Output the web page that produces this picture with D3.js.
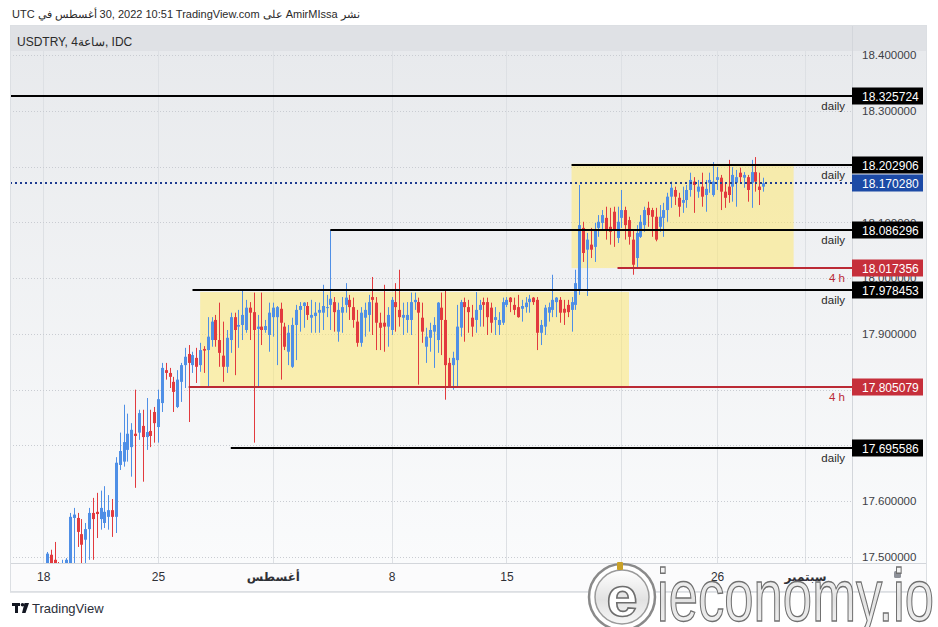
<!DOCTYPE html>
<html>
<head>
<meta charset="utf-8">
<script src="https://cdn.jsdelivr.net/npm/d3@7"></script>
<style>
body { margin: 0; background: #fff; }
svg { display: block; font-family: "Liberation Sans", Arial, sans-serif; }
</style>
</head>
<body>
<svg id="chart" width="938" height="627"></svg>
<script>
// USDTRY 4h candles
var opens = [17.489,17.504,17.495,17.477,17.463,17.477,17.486,17.570,17.570,17.541,
17.531,17.550,17.579,17.581,17.568,17.561,17.572,17.584,17.572,17.665,
17.671,17.692,17.697,17.721,17.723,17.735,17.715,17.726,17.760,17.733,
17.776,17.835,17.830,17.814,17.769,17.814,17.844,17.864,17.844,17.857,
17.844,17.873,17.871,17.889,17.925,17.889,17.861,17.841,17.889,17.930,
17.913,17.916,17.907,17.947,17.939,17.909,17.913,17.907,17.898,17.930,
17.930,17.945,17.913,17.868,17.841,17.916,17.943,17.950,17.950,17.929,
17.932,17.938,17.938,17.947,17.952,17.957,17.904,17.938,17.952,17.961,
17.948,17.922,17.884,17.929,17.934,17.966,17.956,17.920,17.920,17.913,
17.907,17.957,17.943,17.929,17.925,17.925,17.957,17.957,17.929,17.877,
17.893,17.904,17.889,17.947,17.925,17.848,17.844,17.853,17.911,17.957,
17.948,17.929,17.925,17.943,17.957,17.957,17.947,17.925,17.916,17.920,
17.952,17.965,17.952,17.948,17.945,17.948,17.957,17.965,17.961,17.902,
17.913,17.938,17.943,17.957,17.961,17.945,17.952,17.943,17.952,17.979,
18.090,18.051,18.060,18.056,18.090,18.099,18.108,18.092,18.119,18.072,
18.108,18.122,18.104,18.069,18.036,18.074,18.095,18.126,18.122,18.110,
18.092,18.108,18.122,18.146,18.158,18.144,18.135,18.140,18.158,18.173,
18.155,18.164,18.149,18.171,18.149,18.176,18.180,18.155,18.164,18.164,
18.171,18.189,18.180,18.181,18.171,18.190,18.164,18.164];
var highs = [17.509,17.513,17.527,17.491,17.495,17.498,17.579,17.588,17.579,17.568,
17.561,17.588,17.606,17.615,17.619,17.627,17.611,17.604,17.679,17.723,
17.773,17.757,17.740,17.800,17.764,17.764,17.785,17.764,17.769,17.800,
17.848,17.848,17.839,17.823,17.835,17.848,17.875,17.880,17.868,17.875,
17.884,17.878,17.930,17.930,17.934,17.956,17.922,17.907,17.938,17.938,
17.943,17.977,17.961,17.957,17.974,17.934,17.974,17.925,17.956,17.956,
17.950,17.956,17.920,17.916,17.929,17.952,17.957,17.957,17.957,17.961,
17.957,17.956,17.988,17.970,18.086,17.966,17.956,17.966,17.991,17.970,
17.965,17.943,17.948,17.956,17.970,18.002,17.966,17.938,17.988,17.948,
17.966,17.991,18.015,17.956,17.957,17.974,17.974,17.965,17.956,17.911,
17.920,17.930,17.957,17.974,17.979,17.857,17.868,17.952,17.961,17.965,
17.961,17.952,17.975,17.961,17.965,17.965,17.956,17.948,17.939,17.965,
17.966,17.966,17.965,17.970,17.961,17.966,17.970,17.966,17.966,17.925,
17.952,17.956,18.006,17.966,17.966,17.961,17.961,17.966,18.015,18.167,
18.101,18.081,18.090,18.099,18.113,18.122,18.128,18.126,18.128,18.128,
18.158,18.128,18.110,18.086,18.095,18.113,18.128,18.137,18.126,18.126,
18.131,18.135,18.153,18.173,18.164,18.153,18.164,18.167,18.189,18.181,
18.176,18.189,18.176,18.189,18.208,18.199,18.185,18.171,18.212,18.199,
18.194,18.198,18.190,18.185,18.212,18.217,18.189,18.180];
var lows = [17.484,17.486,17.468,17.450,17.455,17.468,17.480,17.489,17.518,17.489,
17.489,17.495,17.495,17.534,17.549,17.552,17.549,17.536,17.543,17.656,
17.662,17.671,17.644,17.624,17.710,17.635,17.692,17.697,17.705,17.705,
17.760,17.818,17.803,17.760,17.767,17.778,17.803,17.742,17.830,17.812,
17.832,17.830,17.803,17.877,17.877,17.841,17.814,17.830,17.866,17.826,
17.875,17.889,17.902,17.889,17.705,17.805,17.880,17.902,17.868,17.895,
17.844,17.818,17.871,17.844,17.839,17.853,17.904,17.911,17.925,17.902,
17.902,17.902,17.907,17.930,17.907,17.904,17.886,17.902,17.938,17.925,
17.911,17.877,17.877,17.895,17.904,17.898,17.871,17.871,17.868,17.877,
17.898,17.904,17.913,17.898,17.902,17.898,17.943,17.809,17.884,17.848,
17.868,17.839,17.866,17.862,17.782,17.803,17.800,17.805,17.895,17.886,
17.902,17.895,17.902,17.913,17.913,17.898,17.902,17.898,17.898,17.916,
17.948,17.939,17.934,17.929,17.922,17.938,17.938,17.952,17.871,17.880,
17.898,17.922,17.930,17.930,17.920,17.916,17.930,17.904,17.943,17.970,
18.029,17.968,18.036,18.029,18.074,18.086,18.069,18.060,18.056,18.063,
18.090,18.069,18.060,18.006,18.020,18.072,18.083,18.092,18.074,18.066,
18.083,18.074,18.101,18.126,18.131,18.110,18.117,18.126,18.146,18.117,
18.144,18.128,18.119,18.153,18.146,18.158,18.122,18.126,18.135,18.137,
18.128,18.171,18.162,18.137,18.126,18.155,18.131,18.155];
var closes = [17.506,17.489,17.477,17.459,17.480,17.495,17.572,17.576,17.545,17.522,
17.550,17.579,17.568,17.577,17.588,17.581,17.584,17.572,17.669,17.690,
17.706,17.721,17.728,17.717,17.758,17.715,17.724,17.717,17.740,17.783,
17.839,17.830,17.823,17.796,17.818,17.844,17.859,17.848,17.862,17.841,
17.871,17.870,17.895,17.922,17.889,17.866,17.841,17.893,17.930,17.907,
17.916,17.934,17.947,17.938,17.907,17.913,17.907,17.914,17.938,17.947,
17.948,17.920,17.877,17.902,17.916,17.943,17.950,17.956,17.934,17.934,
17.938,17.943,17.950,17.948,17.963,17.939,17.943,17.948,17.965,17.948,
17.925,17.884,17.938,17.943,17.957,17.961,17.920,17.911,17.913,17.934,
17.961,17.948,17.930,17.934,17.934,17.957,17.961,17.938,17.904,17.895,
17.907,17.916,17.956,17.925,17.844,17.805,17.857,17.913,17.957,17.948,
17.939,17.913,17.943,17.952,17.952,17.930,17.920,17.930,17.925,17.957,
17.961,17.957,17.943,17.930,17.950,17.956,17.963,17.957,17.902,17.916,
17.947,17.948,17.961,17.965,17.938,17.938,17.939,17.957,17.991,18.095,
18.045,18.069,18.051,18.086,18.101,18.113,18.086,18.083,18.086,18.101,
18.122,18.095,18.074,18.024,18.081,18.101,18.122,18.113,18.110,18.069,
18.110,18.122,18.146,18.162,18.146,18.128,18.140,18.158,18.176,18.167,
18.164,18.146,18.160,18.176,18.173,18.181,18.155,18.144,18.149,18.185,
18.181,18.181,18.185,18.158,18.190,18.173,18.158,18.170];

// time axis: bar index of each label (the 22 Aug slot is hidden by the watermark)
var tickBars = [-1, 29, 59, 90, 120, 175, 198];
var tickLabels = ["18", "25", "أغسطس", "8", "15", "26", "سبتمبر"];
var gridBars = [-1, 29, 59, 90, 120, 150, 175, 198];
var monthTicks = ["أغسطس", "سبتمبر"];

// price axis
var priceTicks = [17.5, 17.6, 17.7, 17.8, 17.9, 18.0, 18.1, 18.2, 18.3, 18.4];

// drawn horizontal levels
var levelPrices = [18.325724, 18.202906, 18.086296, 18.017356, 17.978453, 17.805079, 17.695586];
var levelStart  = [-15, 137, 74, 149, 38, 37, 48];
var levelNames  = ["daily", "daily", "daily", "4 h", "daily", "4 h", "daily"];
var lastPrice = 18.170280;

// yellow ranges
var boxFrom = [40, 137], boxTo = [152, 195];
var boxLow = [17.805, 18.018], boxHigh = [17.975, 18.205];

var svg = d3.select("#chart");
var L = 10, R = 852, T = 25, B = 563, AX = 927;
var up = "#4f8fe6", down = "#e23a3e", redLine = "#bb2a35";

var N = closes.length;
var x = d3.scaleLinear().domain([0, N - 1]).range([47, 763]);
var y = d3.scaleLinear().domain([17.5, 18.4]).range([557, 55]);

var defs = svg.append("defs");
var bg = defs.append("linearGradient").attr("id", "bg").attr("x1", 0).attr("y1", 0).attr("x2", 0).attr("y2", 1);
bg.append("stop").attr("offset", "0%").attr("stop-color", "#e7e9ec");
bg.append("stop").attr("offset", "100%").attr("stop-color", "#fafbfc");
defs.append("clipPath").attr("id", "plot").append("rect")
  .attr("x", L).attr("y", T).attr("width", R - L).attr("height", B - T);
var silver = defs.append("linearGradient").attr("id", "silver").attr("x1", 0).attr("y1", 0).attr("x2", 0).attr("y2", 1);
silver.append("stop").attr("offset", "0%").attr("stop-color", "#ffffff");
silver.append("stop").attr("offset", "55%").attr("stop-color", "#e2e2e2");
silver.append("stop").attr("offset", "100%").attr("stop-color", "#f7f7f7");

// top line
var headChunks = ["UTC", "في", "أغسطس", "30, 2022 10:51 TradingView.com", "على", "AmirMIssa", "نشر"];
var hx = 12;
headChunks.forEach(function(t) {
  var el = svg.append("text").attr("x", hx).attr("y", 18)
    .attr("font-size", 11).attr("fill", "#2a2a2a").text(t);
  hx += el.node().getComputedTextLength() + 3;
});

// chart background
svg.append("rect").attr("x", L).attr("y", T).attr("width", AX - L).attr("height", B - T).attr("fill", "url(#bg)");
svg.append("rect").attr("x", L).attr("y", T).attr("width", AX - L).attr("height", 26).attr("fill", "#dfe1e5");
svg.append("rect").attr("x", L).attr("y", B).attr("width", AX - L).attr("height", 29).attr("fill", "#fbfbfc");

// grid
var grid = svg.append("g").attr("clip-path", "url(#plot)");
grid.selectAll(".vg").data(gridBars).enter().append("line")
  .attr("x1", function(d) { return Math.round(x(d)) + 0.5; })
  .attr("x2", function(d) { return Math.round(x(d)) + 0.5; })
  .attr("y1", T + 26).attr("y2", B).attr("stroke", "#dde0e4").attr("stroke-width", 1);
grid.selectAll(".hg").data(priceTicks).enter().append("line")
  .attr("x1", L).attr("x2", R)
  .attr("y1", function(d) { return Math.round(y(d)) + 0.5; })
  .attr("y2", function(d) { return Math.round(y(d)) + 0.5; })
  .attr("stroke", "#c9ccd2").attr("stroke-width", 1).attr("stroke-dasharray", "1,2");

// yellow boxes
grid.selectAll(".box").data(boxFrom).enter().append("rect")
  .attr("x", function(d) { return x(d); })
  .attr("width", function(d, i) { return x(boxTo[i]) - x(d); })
  .attr("y", function(d, i) { return y(boxHigh[i]); })
  .attr("height", function(d, i) { return y(boxLow[i]) - y(boxHigh[i]); })
  .attr("fill", "rgba(255,231,104,0.5)");

// candles
var bars = d3.range(N);
var cg = svg.append("g").attr("clip-path", "url(#plot)");
var candle = cg.selectAll(".c").data(bars).enter().append("g");
candle.append("line")
  .attr("x1", function(i) { return Math.round(x(i)) + 0.5; })
  .attr("x2", function(i) { return Math.round(x(i)) + 0.5; })
  .attr("y1", function(i) { return y(highs[i]); })
  .attr("y2", function(i) { return y(lows[i]); })
  .attr("stroke", function(i) { return closes[i] >= opens[i] ? up : down; })
  .attr("stroke-width", 1);
candle.append("rect")
  .attr("x", function(i) { return Math.round(x(i)) - 1; })
  .attr("width", 3)
  .attr("y", function(i) { return y(Math.max(opens[i], closes[i])); })
  .attr("height", function(i) { return Math.max(1, Math.abs(y(opens[i]) - y(closes[i]))); })
  .attr("fill", function(i) { return closes[i] >= opens[i] ? up : down; });

// level lines
var lg = svg.append("g").attr("clip-path", "url(#plot)");
lg.selectAll(".lv").data(levelPrices).enter().append("line")
  .attr("x1", function(d, i) { return x(levelStart[i]); })
  .attr("x2", R)
  .attr("y1", function(d) { return Math.round(y(d)); })
  .attr("y2", function(d) { return Math.round(y(d)); })
  .attr("stroke", function(d, i) { return levelNames[i] === "4 h" ? redLine : "#000"; })
  .attr("stroke-width", 2);
lg.append("line").attr("x1", L).attr("x2", R)
  .attr("y1", Math.round(y(lastPrice))).attr("y2", Math.round(y(lastPrice)))
  .attr("stroke", "#1d3b8f").attr("stroke-width", 2).attr("stroke-dasharray", "2,3");
svg.selectAll(".lvname").data(levelPrices).enter().append("text")
  .attr("x", 845).attr("y", function(d) { return Math.round(y(d)) + 14; })
  .attr("text-anchor", "end").attr("font-size", 11.5)
  .attr("fill", function(d, i) { return levelNames[i] === "4 h" ? redLine : "#2a2a2a"; })
  .text(function(d, i) { return levelNames[i]; });

// header label
svg.append("text").attr("x", 17).attr("y", 46).attr("font-size", 12).attr("fill", "#2a2a2a")
  .text("USDTRY, 4ساعة, IDC");

// price axis
var yAxis = d3.axisRight(y).tickValues(priceTicks).tickFormat(d3.format(".6f")).tickSize(0).tickPadding(10);
var ya = svg.append("g").attr("transform", "translate(" + R + ",0)").call(yAxis);
ya.select(".domain").remove();
ya.selectAll("text").attr("font-family", "Liberation Sans, Arial, sans-serif").attr("font-size", 11.5).attr("fill", "#3d3f46");

// time axis
var xAxis = d3.axisBottom(x).tickValues(tickBars).tickFormat(function(d, i) { return tickLabels[i]; }).tickSize(0).tickPadding(9);
var xa = svg.append("g").attr("transform", "translate(0," + B + ")").call(xAxis);
xa.select(".domain").remove();
xa.selectAll("text").attr("font-family", "Liberation Sans, DejaVu Sans, sans-serif").attr("font-size", 12).attr("fill", "#2f3036")
  .attr("font-weight", function(d, i) { return monthTicks.indexOf(tickLabels[i]) >= 0 ? 600 : "normal"; });

// frame lines
svg.append("line").attr("x1", R + 0.5).attr("x2", R + 0.5).attr("y1", T).attr("y2", B + 29).attr("stroke", "#d3d6db");
svg.append("line").attr("x1", L).attr("x2", AX).attr("y1", B + 0.5).attr("y2", B + 0.5).attr("stroke", "#d3d6db");
svg.append("line").attr("x1", L).attr("x2", AX).attr("y1", B + 29.5).attr("y2", B + 29.5).attr("stroke", "#e3e5e8");
svg.append("rect").attr("x", L + 0.5).attr("y", T + 0.5).attr("width", AX - L - 1).attr("height", B + 29 - T - 1)
  .attr("fill", "none").attr("stroke", "#dcdfe3");
svg.append("rect").attr("x", 894).attr("y", 571).attr("width", 7).attr("height", 7).attr("rx", 1.5).attr("fill", "#8e9199");

// value tags on the price axis
var tagColor = function(i) { return levelNames[i] === "4 h" ? "#c62f3b" : "#000"; };
var tags = svg.selectAll(".tag").data(levelPrices).enter().append("g")
  .attr("transform", function(d) { return "translate(" + R + "," + Math.round(y(d)) + ")"; });
tags.append("rect").attr("x", 0).attr("y", -8.5).attr("width", 71).attr("height", 17).attr("fill", function(d, i) { return tagColor(i); });
tags.append("text").attr("x", 10).attr("y", 4.5).attr("font-size", 12).attr("fill", "#fff")
  .text(function(d) { return d3.format(".6f")(d); });
var lastTag = svg.append("g").attr("transform", "translate(" + R + "," + Math.round(y(lastPrice)) + ")");
lastTag.append("rect").attr("x", 0).attr("y", -8.5).attr("width", 71).attr("height", 17).attr("fill", "#1c4aa6");
lastTag.append("text").attr("x", 10).attr("y", 4.5).attr("font-size", 12).attr("fill", "#fff").text(d3.format(".6f")(lastPrice));

// TradingView footer logo
var tv = svg.append("g").attr("fill", "#131722");
tv.append("rect").attr("x", 12).attr("y", 603).attr("width", 8).attr("height", 3);
tv.append("rect").attr("x", 15).attr("y", 603).attr("width", 3).attr("height", 10);
tv.append("circle").attr("cx", 22.5).attr("cy", 604.8).attr("r", 1.8);
tv.append("path").attr("d", "M24.5,603 L29,603 L25.5,613 L22,613 Z");
svg.append("text").attr("x", 32).attr("y", 613).attr("font-size", 13).attr("fill", "#2a2e39").text("TradingView");

// ieconomy.io watermark
var wm = svg.append("g");
wm.append("circle").attr("cx", 622).attr("cy", 597).attr("r", 33).attr("fill", "#fff").attr("stroke", "#8a8a8a").attr("stroke-width", 2.5);
wm.append("circle").attr("cx", 622).attr("cy", 597).attr("r", 27).attr("fill", "url(#silver)").attr("stroke", "#9a9a9a").attr("stroke-width", 1.5);
wm.append("text").attr("x", 622).attr("y", 616).attr("text-anchor", "middle").attr("font-size", 56).attr("font-weight", "bold")
  .attr("fill", "#fff").attr("stroke", "#6e6e6e").attr("stroke-width", 1.6).text("e");
wm.append("rect").attr("x", 617).attr("y", 562).attr("width", 6).attr("height", 8).attr("rx", 1).attr("fill", "#c9a128");
wm.append("text").attr("x", 657).attr("y", 621).attr("font-size", 74)
  .attr("textLength", 277).attr("lengthAdjust", "spacingAndGlyphs")
  .attr("fill", "url(#silver)").attr("stroke", "#707070").attr("stroke-width", 1.4).text("ieconomy.io");
</script>
</body>
</html>
